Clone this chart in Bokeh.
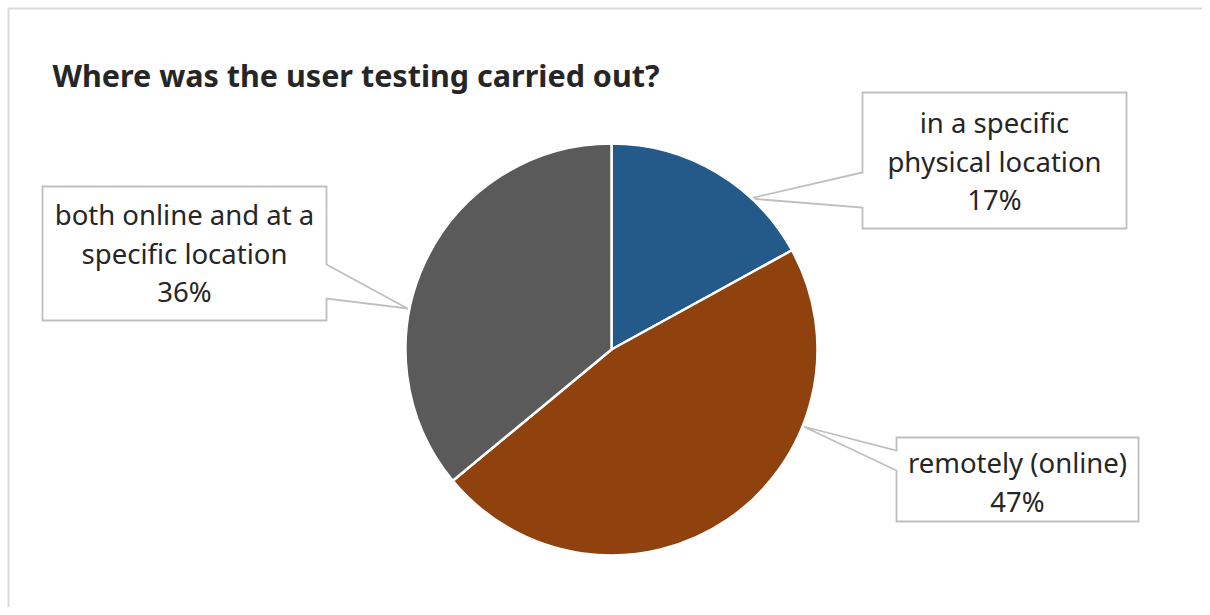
from bokeh.plotting import figure
from bokeh.models import Range1d, ColumnDataSource
from bokeh.core.properties import value
from bokeh.embed import file_html
from bokeh.resources import INLINE
import numpy as np

# ---- data ----
categories = ["in a specific\nphysical location", "remotely (online)", "both online and at a\nspecific location"]
shares = [17, 47, 36]
colors = ["#245A8A", "#8F420E", "#5A5A5A"]
title_text = "Where was the user testing carried out?"

W, H = 1202, 607
def X(px):
    return px
def Y(py):
    return H - py

p = figure(width=W, height=H, x_range=Range1d(0, W), y_range=Range1d(0, H),
           output_backend="svg", toolbar_location=None, min_border=0,
           x_axis_type=None, y_axis_type=None, outline_line_color=None,
           background_fill_color="white", border_fill_color="white")
p.grid.visible = False

# chart border (top and left visible)
p.line([X(8), W], [Y(8), Y(8)], line_color="#d9d9d9", line_width=2)
p.line([X(8), X(8)], [0, Y(8)], line_color="#d9d9d9", line_width=2)

# ---- pie geometry ----
cx, cy, r = X(611), Y(349), 206
vals = np.array(shares, dtype=float)
cum = np.cumsum(vals)
prev = cum - vals
a_start = np.pi / 2 - 2 * np.pi * prev / vals.sum()
a_end = np.pi / 2 - 2 * np.pi * cum / vals.sum()

# ---- callout boxes (box + pointer notch) ----
boxes = [
    dict(l=862, t=92, r=1126, b=228, side="left", n1=172, n2=207, tip=(749, 198)),
    dict(l=896, t=437, r=1138, b=521, side="left", n1=450, n2=470, tip=(803, 426)),
    dict(l=42, t=186, r=326, b=320, side="right", n1=264, n2=298, tip=(407, 308)),
]
xs, ys = [], []
for bx in boxes:
    if bx["side"] == "left":
        pts = [(bx["l"], bx["t"]), (bx["r"], bx["t"]), (bx["r"], bx["b"]), (bx["l"], bx["b"]),
               (bx["l"], bx["n2"]), bx["tip"], (bx["l"], bx["n1"])]
    else:
        pts = [(bx["l"], bx["t"]), (bx["r"], bx["t"]), (bx["r"], bx["n1"]), bx["tip"],
               (bx["r"], bx["n2"]), (bx["r"], bx["b"]), (bx["l"], bx["b"])]
    xs.append([X(a) for a, _ in pts])
    ys.append([Y(b) for _, b in pts])
p.patches(xs, ys, fill_color="white", line_color="#bfbfbf", line_width=1.8, line_join="miter")

# ---- pie ----
src = ColumnDataSource(dict(start=a_end, end=a_start, color=colors))
p.wedge(x=cx, y=cy, radius=r, radius_units="screen", start_angle="start", end_angle="end",
        direction="anticlock", fill_color="color", line_color="white", line_width=2.5, source=src)

# ---- labels ----
label_centers = [994, 1017, 184]
label_first_y = [122, 462, 214]
spacing = 38.5
tx, ty, tt = [], [], []
for i, (cat, v) in enumerate(zip(categories, shares)):
    lines = cat.split("\n") + [f"{v}%"]
    for j, ln in enumerate(lines):
        tx.append(X(label_centers[i]))
        ty.append(Y(label_first_y[i] + j * spacing))
        tt.append(ln)
p.text(x=tx, y=ty, text=tt, text_align="center", text_baseline="middle",
       text_font=value("Noto Sans"), text_font_size="27.5px", text_color="#262626")

# ---- title ----
p.text(x=[X(52)], y=[Y(74)], text=[title_text], text_align="left", text_baseline="alphabetic",
       text_font=value("Noto Sans"), text_font_style="bold", text_font_size="30.5px", text_color="#262626")

open("out.html", "w").write(file_html(p, INLINE))
